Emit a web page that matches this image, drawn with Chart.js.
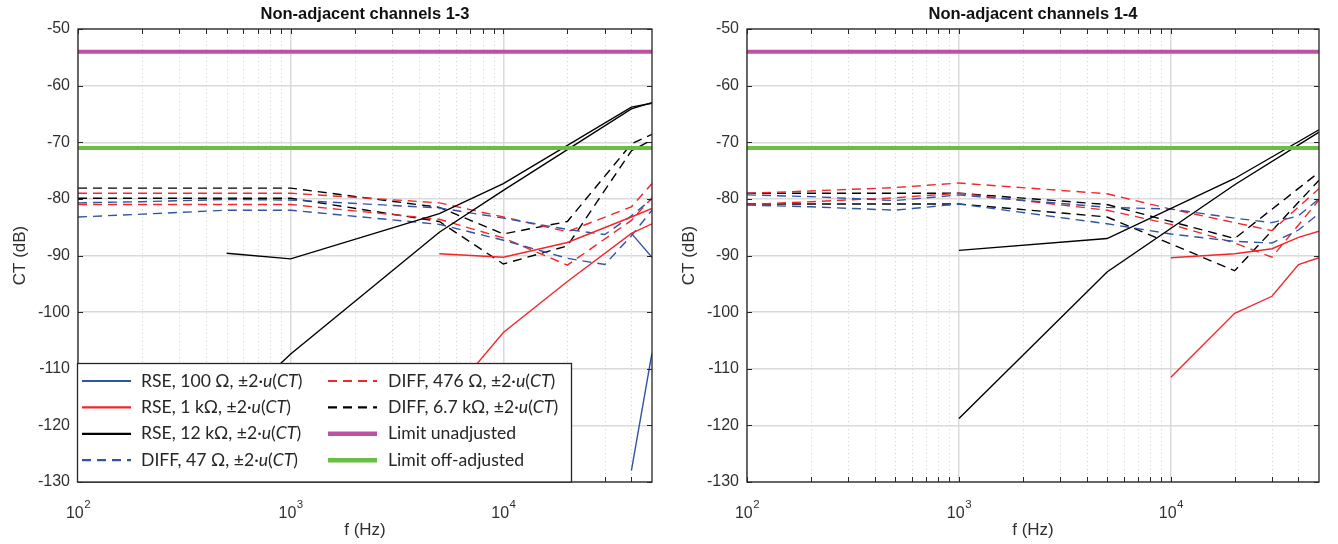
<!DOCTYPE html>
<html>
<head>
<meta charset="utf-8">
<script src="https://cdn.jsdelivr.net/npm/chart.js@4.4.0/dist/chart.umd.min.js"></script>
<style>
  html, body { margin: 0; padding: 0; background: #fff; }
  #wrap { position: relative; width: 1338px; height: 544px; }
  .pane { position: absolute; top: 0; width: 669px; height: 544px; }
</style>
</head>
<body>
<div id="wrap">
  <div class="pane" style="left:0"><canvas id="chartLeft"></canvas></div>
  <div class="pane" style="left:669px"><canvas id="chartRight"></canvas></div>
</div>
<script>
// frequency points (Hz), null = no measurement at that frequency
const freqs = [100, 200, 500, 1000, 5000, 10000, 20000, 30000, 40000, 50000];
const decades = [100, 1000, 10000];
const minorTicks = [200, 300, 400, 500, 600, 700, 800, 900,
  2000, 3000, 4000, 5000, 6000, 7000, 8000, 9000, 20000, 30000, 40000];
const yTicks = [-130, -120, -110, -100, -90, -80, -70, -60, -50];

// limits
const limitFreqs = [100, 50000];
const limitUnadj = [-54, -54];
const limitOffAdj = [-71, -71];

// Non-adjacent channels 1-3 (each series: upper / lower bound of ±2·u(CT))
const ch13_rse100_a = [null, null, null, null, null, null, null, null, -128.0, -107.2];
const ch13_rse100_b = [null, null, null, null, null, null, null, null, -86.1, -90.3];
const ch13_rse1k_a  = [null, null, null, null, -89.7, -90.3, -87.7, null, -83.2, -81.7];
const ch13_rse1k_b  = [null, null, null, null, -117.0, -103.6, -94.6, null, -86.1, -84.4];
const ch13_rse12k_a = [null, null, -89.6, -90.6, -82.6, -77.3, null, null, -63.8, -63.1];
const ch13_rse12k_b = [null, null, -118.0, -107.4, -85.9, -78.5, null, null, -64.1, -63.0];
const ch13_diff47_a = [-80.7, -80.5, -80.1, -80.2, -81.6, -83.4, -85.4, -86.3, -83.0, -80.0];
const ch13_diff47_b = [-83.2, -82.7, -82.0, -82.0, -84.5, -87.3, -90.5, -91.6, -86.5, -82.0];
const ch13_diff476_a = [-79.0, null, null, -79.0, -80.7, -83.2, -85.8, null, -81.4, -77.3];
const ch13_diff476_b = [-81.0, null, null, -81.0, -83.6, -86.9, -91.7, null, -83.8, -79.8];
const ch13_diff67k_a = [-78.1, null, null, -78.1, -81.5, -86.2, -84.0, null, -70.3, -68.6];
const ch13_diff67k_b = [-79.9, null, null, -79.9, -84.0, -91.5, -88.3, null, -71.5, -69.6];

// Non-adjacent channels 1-4
const ch14_rse1k_a  = [null, null, null, null, null, -90.4, -89.7, -88.8, -86.8, -85.7];
const ch14_rse1k_b  = [null, null, null, null, null, -111.5, -100.2, -97.2, -91.6, -90.4];
const ch14_rse12k_a = [null, null, null, -89.1, -87.0, null, -76.4, null, null, -67.8];
const ch14_rse12k_b = [null, null, null, -118.8, -92.9, null, -77.5, null, null, -68.2];
const ch14_diff47_a = [-79.3, -79.6, -80.3, -79.3, -81.5, -81.8, -83.4, -84.2, -83.0, -80.0];
const ch14_diff47_b = [-81.1, -81.4, -82.0, -80.9, -84.4, -86.2, -87.5, -87.8, -85.5, -82.6];
const ch14_diff476_a = [-79.0, -78.6, -78.0, -77.2, -79.1, -81.8, -84.2, -85.6, null, -78.2];
const ch14_diff476_b = [-81.0, -80.5, -79.8, -79.0, -82.0, -84.5, -87.8, -90.3, null, -80.2];
const ch14_diff67k_a = [-79.0, null, null, -79.0, -81.0, null, -87.0, null, null, -75.3];
const ch14_diff67k_b = [-80.9, null, null, -80.9, -83.2, null, -92.7, null, null, -76.7];

const BLUE = '#2f55a4', RED = '#f2262b', BLACK = '#000000', MAGENTA = '#bd52a4', GREEN = '#6abd45';
const DASH = [9, 6];
const FONT = '"Liberation Sans", Arial, sans-serif';
const LEG_FONT = 'Lato, "Open Sans", sans-serif';
const TEXT = '#303030';

const legendItems = [
  { color: BLUE, dash: [], w: 2.2, label: [['RSE, 100 Ω, ±2·'], ['u', 1], ['('], ['CT', 1], [')']] },
  { color: RED, dash: [], w: 2.2, label: [['RSE, 1 kΩ, ±2·'], ['u', 1], ['('], ['CT', 1], [')']] },
  { color: BLACK, dash: [], w: 2.2, label: [['RSE, 12 kΩ, ±2·'], ['u', 1], ['('], ['CT', 1], [')']] },
  { color: BLUE, dash: DASH, w: 2.2, label: [['DIFF, 47 Ω, ±2·'], ['u', 1], ['('], ['CT', 1], [')']] },
  { color: RED, dash: DASH, w: 2.2, label: [['DIFF, 476 Ω, ±2·'], ['u', 1], ['('], ['CT', 1], [')']] },
  { color: BLACK, dash: DASH, w: 2.2, label: [['DIFF, 6.7 kΩ, ±2·'], ['u', 1], ['('], ['CT', 1], [')']] },
  { color: MAGENTA, dash: [], w: 4.5, label: [['Limit unadjusted']] },
  { color: GREEN, dash: [], w: 4.5, label: [['Limit off-adjusted']] }
];

function line(vals, color, dash, xs) {
  const fx = xs || freqs;
  return {
    data: fx.map((f, i) => ({ x: f, y: vals[i] })),
    borderColor: color,
    borderDash: dash,
    borderWidth: xs ? 4 : 1.4,
    pointRadius: 0,
    spanGaps: true,
    tension: 0,
    fill: false
  };
}

function drawLegend(ctx, a) {
  const L = a.left - 1, H = 119, T = a.bottom - H, W = 494;
  ctx.save();
  ctx.fillStyle = '#fff';
  ctx.fillRect(L, T, W, H);
  ctx.strokeStyle = '#262626';
  ctx.lineWidth = 1.3;
  ctx.strokeRect(L + 0.5, T + 0.5, W, H - 0.5);
  ctx.textBaseline = 'middle';
  ctx.textAlign = 'left';
  legendItems.forEach((it, i) => {
    const col = Math.floor(i / 4), row = i % 4;
    const y = T + 18 + row * 26.4;
    const sx = L + (col ? 251 : 5), tx = L + (col ? 311 : 64);
    ctx.beginPath();
    ctx.setLineDash(it.dash);
    ctx.lineWidth = it.w;
    ctx.strokeStyle = it.color;
    ctx.moveTo(sx, y);
    ctx.lineTo(sx + 49, y);
    ctx.stroke();
    ctx.setLineDash([]);
    let cx = tx;
    ctx.fillStyle = '#262626';
    it.label.forEach(([t, ital]) => {
      ctx.font = (ital ? 'italic ' : '') + '17.6px ' + LEG_FONT;
      ctx.fillText(t, cx, y);
      cx += ctx.measureText(t).width;
    });
  });
  ctx.restore();
}

const matlabAxes = {
  id: 'matlabAxes',
  beforeDatasetsDraw(chart) {
    const { ctx, chartArea: a, scales: { x } } = chart;
    ctx.save();
    ctx.strokeStyle = '#d2d2d2';
    ctx.lineWidth = 1;
    ctx.setLineDash([1, 3]);
    minorTicks.forEach(v => {
      const px = Math.round(x.getPixelForValue(v)) + 0.5;
      ctx.beginPath();
      ctx.moveTo(px, a.top);
      ctx.lineTo(px, a.bottom);
      ctx.stroke();
    });
    ctx.restore();
  },
  afterDatasetsDraw(chart) {
    const { ctx, chartArea: a, scales: { x, y } } = chart;
    ctx.save();
    ctx.strokeStyle = '#262626';
    ctx.lineWidth = 1.3;
    ctx.strokeRect(a.left, a.top, a.right - a.left, a.bottom - a.top);
    ctx.lineWidth = 1;
    ctx.beginPath();
    decades.concat(minorTicks).forEach(v => {
      const px = Math.round(x.getPixelForValue(v)) + 0.5;
      ctx.moveTo(px, a.bottom); ctx.lineTo(px, a.bottom - 5);
      ctx.moveTo(px, a.top); ctx.lineTo(px, a.top + 5);
    });
    yTicks.forEach(v => {
      const py = Math.round(y.getPixelForValue(v)) + 0.5;
      ctx.moveTo(a.left, py); ctx.lineTo(a.left + 5, py);
      ctx.moveTo(a.right, py); ctx.lineTo(a.right - 5, py);
    });
    ctx.stroke();
    ctx.restore();
  },
  afterDraw(chart, args, opts) {
    const { ctx, chartArea: a, scales: { x } } = chart;
    ctx.save();
    ctx.fillStyle = TEXT;
    ctx.textBaseline = 'alphabetic';
    ctx.textAlign = 'left';
    decades.forEach(v => {
      const px = x.getPixelForValue(v);
      const exp = String(Math.round(Math.log10(v)));
      ctx.font = '16px ' + FONT;
      const w1 = ctx.measureText('10').width;
      ctx.font = '11.5px ' + FONT;
      const w2 = ctx.measureText(exp).width;
      const start = px - (w1 + w2) / 2;
      ctx.font = '16px ' + FONT;
      ctx.fillText('10', start, a.bottom + 36);
      ctx.font = '11.5px ' + FONT;
      ctx.fillText(exp, start + w1 + 0.5, a.bottom + 26);
    });
    const cx = (a.left + a.right) / 2;
    ctx.textAlign = 'center';
    ctx.textBaseline = 'middle';
    ctx.font = '17px ' + FONT;
    ctx.fillText('f (Hz)', cx, a.bottom + 48);
    ctx.fillStyle = '#111';
    ctx.font = 'bold 16.5px ' + FONT;
    ctx.fillText(opts.title, cx, 14);
    ctx.fillStyle = TEXT;
    ctx.font = '17px ' + FONT;
    ctx.translate(20, (a.top + a.bottom) / 2);
    ctx.rotate(-Math.PI / 2);
    ctx.fillText('CT (dB)', 0, 0);
    ctx.restore();
    if (opts.legend) drawLegend(ctx, a);
  }
};

function makeChart(id, title, sets, withLegend, padRight) {
  return new Chart(document.getElementById(id), {
    type: 'line',
    data: { datasets: sets },
    plugins: [matlabAxes],
    options: {
      responsive: true,
      maintainAspectRatio: false,
      animation: false,
      events: [],
      layout: { padding: { top: 29, right: padRight, left: 0, bottom: 0 } },
      plugins: {
        legend: { display: false },
        tooltip: { enabled: false },
        matlabAxes: { title: title, legend: withLegend }
      },
      scales: {
        x: {
          type: 'logarithmic',
          min: 100,
          max: 50000,
          afterBuildTicks: s => { s.ticks = decades.map(v => ({ value: v })); },
          afterFit: s => { s.height = 62; },
          ticks: { display: false },
          grid: { color: '#dadada', lineWidth: 1.5, drawTicks: false },
          border: { display: false }
        },
        y: {
          min: -130,
          max: -50,
          afterBuildTicks: s => { s.ticks = yTicks.map(v => ({ value: v })); },
          afterFit: s => { s.width = 78; },
          ticks: { color: TEXT, font: { family: FONT, size: 16 }, padding: 8 },
          grid: { color: '#dadada', lineWidth: 1.5, drawTicks: false },
          border: { display: false }
        }
      }
    }
  });
}

const leftSets = [
  line(limitUnadj, MAGENTA, [], limitFreqs),
  line(limitOffAdj, GREEN, [], limitFreqs),
  line(ch13_rse100_a, BLUE, []), line(ch13_rse100_b, BLUE, []),
  line(ch13_rse1k_a, RED, []), line(ch13_rse1k_b, RED, []),
  line(ch13_rse12k_a, BLACK, []), line(ch13_rse12k_b, BLACK, []),
  line(ch13_diff47_a, BLUE, DASH), line(ch13_diff47_b, BLUE, DASH),
  line(ch13_diff476_a, RED, DASH), line(ch13_diff476_b, RED, DASH),
  line(ch13_diff67k_a, BLACK, DASH), line(ch13_diff67k_b, BLACK, DASH)
];

const rightSets = [
  line(limitUnadj, MAGENTA, [], limitFreqs),
  line(limitOffAdj, GREEN, [], limitFreqs),
  line(ch14_rse1k_a, RED, []), line(ch14_rse1k_b, RED, []),
  line(ch14_rse12k_a, BLACK, []), line(ch14_rse12k_b, BLACK, []),
  line(ch14_diff47_a, BLUE, DASH), line(ch14_diff47_b, BLUE, DASH),
  line(ch14_diff476_a, RED, DASH), line(ch14_diff476_b, RED, DASH),
  line(ch14_diff67k_a, BLACK, DASH), line(ch14_diff67k_b, BLACK, DASH)
];

makeChart('chartLeft', 'Non-adjacent channels 1-3', leftSets, true, 17);
makeChart('chartRight', 'Non-adjacent channels 1-4', rightSets, false, 19);
</script>
</body>
</html>
